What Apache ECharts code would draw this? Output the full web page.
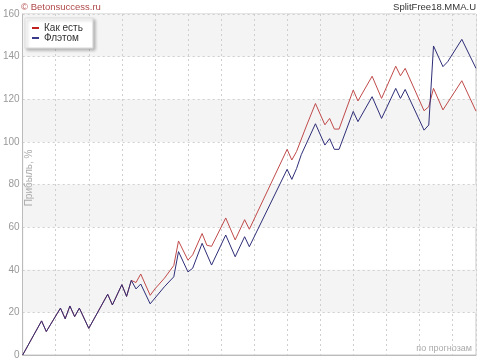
<!DOCTYPE html>
<html>
<head>
<meta charset="utf-8">
<script src="https://cdn.jsdelivr.net/npm/echarts@6/dist/echarts.min.js"></script>
<style>html,body{margin:0;padding:0;background:#fff}#c{width:480px;height:360px}</style>
</head>
<body>
<div id="c"></div>
<script>
// Data (x = bet number, y = profit %)
var seriesNames = ['Как есть', 'Флэтом'];
var yTicks = [0, 20, 40, 60, 80, 100, 120, 140, 160];

var betRed = [0,4,5,8,9,10,11,12,14,18,19,21,22,23,24,25,27,28,30,32,33,35,36,38,39,40,43,45,47,48,56,57,58,60,62,64,65,66,67,70,71,74,76,79,80,81,85,86,87,89,93,96];
var profitRed = [0,16,11,22,17,23,18,22,12.5,28.5,23.5,33,27.5,35,34,38,28,31,36,42,53.5,44.5,47,57,51.5,51,64.3,54,63.5,59,96.5,91.5,95.5,107,118,108,111,106,106,124.3,119.2,130.8,120.4,135.5,131,134.5,114.6,116.5,125.1,115,128.7,114.4];

var betBlue = [0,4,5,8,9,10,11,12,14,18,19,21,22,23,24,25,27,30,32,33,35,36,38,40,43,45,47,48,56,57,58,59,62,64,65,66,67,70,71,74,76,79,80,81,85,86,87,89,90,93,96];
var profitBlue = [0,16,11,22,17,23,18,22,12.5,28.5,23.5,33,27.5,35,31,33.3,24,32,36.7,48.5,39,40.7,52.4,42.2,56.3,46.1,55.5,50.8,87.1,82.4,87.5,94,108.5,98.5,101.5,96.5,96.5,114.3,109.5,121.2,111,125.1,120.4,124.6,105.5,107.9,145,135.3,137.6,148.1,134.5];

function pairs(xs, ys) { return xs.map(function (x, i) { return [x, ys[i]]; }); }

var font = '"Liberation Sans", Arial, sans-serif';
var chart = echarts.init(document.getElementById('c'), null, {renderer: 'canvas'});
chart.setOption({
  animation: false,
  backgroundColor: '#fff',
  textStyle: {fontFamily: font},
  grid: {left: 20, right: 4, top: 14, bottom: 5, show: true, borderColor: '#c8c8c8', borderWidth: 1, backgroundColor: 'transparent'},
  xAxis: {
    type: 'value', min: 0, max: 96, interval: 7,
    axisLabel: {show: false}, axisTick: {show: false},
    axisLine: {show: true, lineStyle: {color: '#bbb'}},
    splitLine: {show: true, lineStyle: {color: '#cfcfcf', type: [2, 3], width: 1}}
  },
  yAxis: {
    type: 'value', min: yTicks[0], max: yTicks[yTicks.length - 1], interval: 20,
    axisLabel: {color: '#999', fontSize: 10, margin: 3, fontFamily: font},
    axisTick: {show: false},
    axisLine: {show: true, lineStyle: {color: '#bbb'}},
    splitLine: {show: true, lineStyle: {color: '#cfcfcf', type: [2, 3], width: 1}},
    splitArea: {show: true, areaStyle: {color: ['rgba(255,255,255,0)', '#f4f4f4']}}
  },
  legend: {
    orient: 'vertical', left: 25, top: 18,
    data: seriesNames,
    icon: 'rect', itemWidth: 7, itemHeight: 2, itemGap: 0,
    padding: [5, 10, 5, 7],
    backgroundColor: '#fff', borderColor: '#ddd', borderWidth: 1,
    shadowColor: 'rgba(0,0,0,0.25)', shadowBlur: 3, shadowOffsetX: 2, shadowOffsetY: 2,
    textStyle: {color: '#333', fontSize: 10, fontFamily: font, lineHeight: 10}
  },
  graphic: [
    {type: 'text', z: 100, left: 21, top: 2, style: {text: '© Betonsuccess.ru', fill: '#b04848', font: '9.5px ' + font}},
    {type: 'text', z: 100, right: 4, top: 2, style: {text: 'SplitFree18.MMA.U', fill: '#333', font: '9.5px ' + font}},
    {type: 'text', z: 100, right: 8, top: 344, style: {text: 'по прогнозам', fill: '#aaa', font: '9px ' + font}},
    {type: 'text', z: 100, x: 29, y: 178, rotation: Math.PI / 2, style: {text: 'Прибыль, %', fill: '#aaa', font: '10px ' + font, textAlign: 'center', textVerticalAlign: 'middle'}}
  ],
  series: [
    {name: seriesNames[0], type: 'line', data: pairs(betRed, profitRed), showSymbol: false, symbol: 'none',
     lineStyle: {color: '#c04a4a', width: 1}, itemStyle: {color: '#c02020'}},
    {name: seriesNames[1], type: 'line', data: pairs(betBlue, profitBlue), showSymbol: false, symbol: 'none',
     lineStyle: {color: '#2e2e78', width: 1}, itemStyle: {color: '#3a3a8a'}}
  ]
});
</script>
</body>
</html>
